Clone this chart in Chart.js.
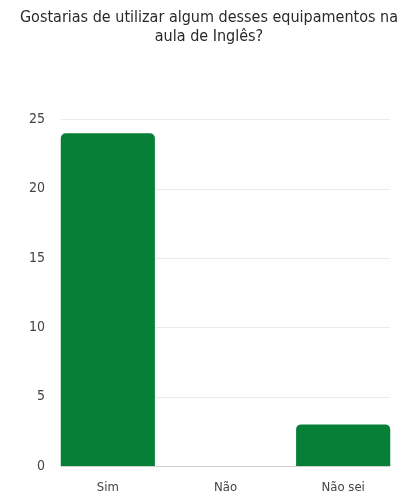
<!DOCTYPE html>
<html>
<head>
<meta charset="utf-8">
<script src="https://cdn.jsdelivr.net/npm/chart.js@4"></script>
<style>
  html, body { margin: 0; padding: 0; background: #fff; }
  #wrap { width: 407px; height: 497px; }
</style>
</head>
<body>
<div id="wrap"><canvas id="chart"></canvas></div>
<script>
const titleLines = ['Gostarias de utilizar algum desses equipamentos na', 'aula de Inglês?']
const categories = ['Sim', 'Não', 'Não sei']
const answers = [24, 0, 3]
const yTicks = [0, 5, 10, 15, 20, 25]

const font = "'DejaVu Sans Condensed', 'Liberation Sans Narrow', sans-serif"

// grid lines only between the outer edges of the bars, like the original
const shortGrid = {
  id: 'shortGrid',
  beforeDatasetsDraw(chart) {
    const bars = chart.getDatasetMeta(0).data
    const first = bars[0], last = bars[bars.length - 1]
    const x1 = first.x - first.width / 2
    const x2 = last.x + last.width / 2
    const y = chart.scales.y
    const ctx = chart.ctx
    ctx.save()
    ctx.lineWidth = 1
    yTicks.forEach(v => {
      const py = Math.round(y.getPixelForValue(v)) + 0.5
      ctx.strokeStyle = v === 0 ? '#cfcfcf' : '#ebebeb'
      ctx.beginPath()
      ctx.moveTo(x1, py)
      ctx.lineTo(x2, py)
      ctx.stroke()
    })
    ctx.restore()
  }
}

new Chart(document.getElementById('chart'), {
  type: 'bar',
  data: {
    labels: categories,
    datasets: [{
      data: answers,
      backgroundColor: '#077f37',
      borderRadius: { topLeft: 5, topRight: 5 },
      borderSkipped: 'bottom',
      barPercentage: 0.8,
      categoryPercentage: 1
    }]
  },
  options: {
    responsive: true,
    maintainAspectRatio: false,
    animation: false,
    layout: { padding: { left: 16, right: 5, top: 8, bottom: 2 } },
    plugins: {
      legend: { display: false },
      tooltip: { enabled: false },
      title: {
        display: true,
        text: titleLines,
        color: '#2a2a2a',
        font: { family: font, size: 16, weight: 'normal' },
        lineHeight: 0.9,
        padding: { top: 0, bottom: 73 }
      }
    },
    scales: {
      x: {
        grid: { display: false, drawTicks: false },
        border: { display: false },
        ticks: { color: '#444', font: { family: font, size: 13 }, padding: 14 },
        afterFit: axis => { axis.height = 29 }
      },
      y: {
        min: 0,
        max: yTicks[yTicks.length - 1],
        afterBuildTicks: axis => { axis.ticks = yTicks.map(v => ({ value: v })) },
        grid: { display: false, drawTicks: false },
        border: { display: false },
        ticks: { color: '#444', font: { family: font, size: 14 }, padding: 4 },
        afterFit: axis => { axis.width = 33 }
      }
    }
  },
  plugins: [shortGrid]
})
</script>
</body>
</html>
